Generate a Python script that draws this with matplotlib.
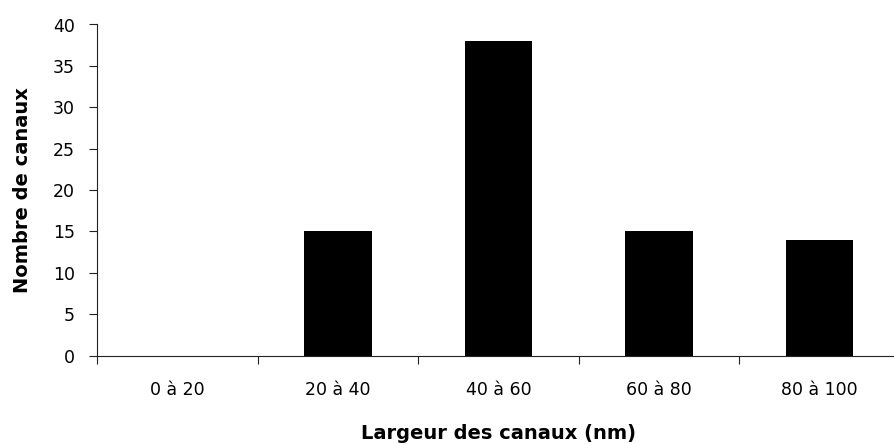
import matplotlib
matplotlib.use("Agg")
import matplotlib.pyplot as plt
import numpy as np

categories = ["0 à 20", "20 à 40", "40 à 60", "60 à 80", "80 à 100"]
counts = [0, 15, 38, 15, 14]
yticks = [0, 5, 10, 15, 20, 25, 30, 35, 40]

plt.rcParams['font.family'] = ['DejaVu Sans']

fig = plt.figure(figsize=(8.95, 4.44), dpi=100)
W, H = 895, 444
left_px, right_px, bottom_px, top_px = 97, 900, 355.7, 24.5
ax = fig.add_axes([left_px / W, 1 - bottom_px / H, (right_px - left_px) / W, (bottom_px - top_px) / H])

x = np.arange(len(categories))
ax.bar(x, counts, width=0.42, color='black', edgecolor='black', linewidth=0)

ax.set_xlim(-0.5, len(categories) - 0.5)
ax.set_ylim(0, 40)
ax.set_yticks(yticks)
ax.set_yticklabels([str(v) for v in yticks], fontsize=12.5)

ax.set_xticks(x)
ax.set_xticklabels(categories, fontsize=12.5)
ax.set_xticks(np.arange(-0.5, len(categories), 1.0), minor=True)
ax.tick_params(axis='x', which='major', length=0, pad=18)
ax.tick_params(axis='x', which='minor', length=6, width=0.8, color='#222222', direction='out')
ax.tick_params(axis='y', which='major', length=6, width=0.8, color='#222222', direction='out', pad=10)

for s in ['top', 'right']:
    ax.spines[s].set_visible(False)
for s in ['left', 'bottom']:
    ax.spines[s].set_color('#222222')
    ax.spines[s].set_linewidth(0.8)

ax.set_xlabel("Largeur des canaux (nm)", fontsize=14, fontweight='bold', labelpad=18)
ax.set_ylabel("Nombre de canaux", fontsize=14, fontweight='bold')
ax.yaxis.set_label_coords(-0.081, 0.5)

fig.savefig("out.png", dpi=100)
